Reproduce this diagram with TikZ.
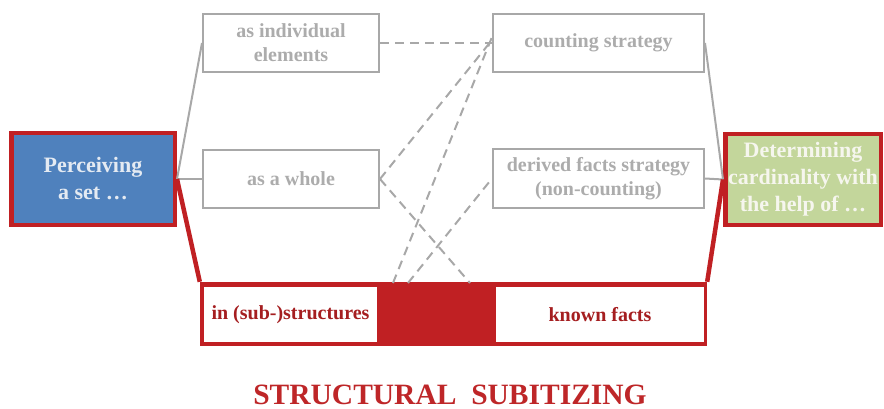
\documentclass[tikz,border=0pt]{standalone}
\usepackage{fontspec}
\setmainfont{Liberation Serif}
\definecolor{frameRed}{RGB}{192,32,35}
\definecolor{textRed}{RGB}{165,30,32}
\definecolor{titleRed}{RGB}{190,38,40}
\definecolor{setBlue}{RGB}{79,129,189}
\definecolor{setText}{RGB}{228,234,242}
\definecolor{cardGreen}{RGB}{195,214,155}
\definecolor{cardText}{RGB}{246,246,238}
\definecolor{lineGray}{RGB}{168,168,168}
\definecolor{textGray}{RGB}{172,172,172}

\begin{document}
\begin{tikzpicture}[x=1pt, y=-1pt,
  graybox/.style={draw=lineGray, line width=2pt, fill=white, inner sep=0pt,
    align=center, text=textGray, font=\fontsize{20}{24}\selectfont\bfseries},
  mainbox/.style={draw=frameRed, line width=4.5pt, inner sep=0pt, align=center,
    font=\fontsize{22}{27}\selectfont\bfseries},
  whitebox/.style={fill=white, inner sep=0pt, text=textRed,
    font=\fontsize{20}{24}\selectfont\bfseries},
  link/.style={draw=lineGray, line width=2pt},
  dashlink/.style={draw=lineGray, line width=2pt, dash pattern=on 9pt off 6pt},
  redlink/.style={draw=frameRed, line width=4.5pt}]

\useasboundingbox (0,0) rectangle (884,409);

% red band holding the two structural routes
\node[fill=frameRed, inner sep=0pt, minimum width=507pt, minimum height=64pt]
  (band) at (453.5,314) {};
\node[whitebox, minimum width=173pt, minimum height=55pt]
  (subs) at (290.5,314.5) {in (sub-)structures};
\node[whitebox, minimum width=208pt, minimum height=55pt]
  (known) at (600,314.5) {known facts};

% outer boxes
\node[mainbox, fill=setBlue, text=setText, minimum width=163.5pt, minimum height=91.5pt]
  (perceive) at (93,179) {Perceiving\\a set \dots};
\node[mainbox, fill=cardGreen, text=cardText, minimum width=155.5pt, minimum height=90.5pt]
  (card) at (803,179.5) {Determining\\cardinality with\\the help of \dots};

% ways of perceiving and strategies
\node[graybox, minimum width=176pt, minimum height=58pt] (indiv) at (291,43) {as individual\\elements};
\node[graybox, minimum width=176pt, minimum height=58pt] (whole) at (291,179) {as a whole};
\node[graybox, minimum width=211pt, minimum height=58pt] (count) at (598.5,43) {counting strategy};
\node[graybox, minimum width=211pt, minimum height=58pt] (derived) at (598.5,178.5) {derived facts strategy\\(non-counting)};

% end points of dashed links on the band
\coordinate (b1) at (393,283);
\coordinate (b2) at (408,283);
\coordinate (b3) at (470,283);

% solid links
\draw[link] (perceive.east) -- (indiv.west);
\draw[link] (perceive.east) -- (whole.west);
\draw[link] (count.east) -- (card.west);
\draw[link] (derived.east) -- (card.west);

% dashed links
\draw[dashlink] (indiv.east) -- (count.west);
\draw[dashlink] (whole.east) -- ([yshift=3pt]count.west);
\draw[dashlink] (b1) -- ([yshift=6pt]count.west);
\draw[dashlink] (whole.east) -- (b3);
\draw[dashlink] (b2) -- (derived.west);

% red links to the band
\draw[redlink] (perceive.east) -- (band.north west);
\draw[redlink] (card.west) -- (band.north east);

% title
\node[text=titleRed, font=\fontsize{29.5}{34}\selectfont\bfseries, anchor=base,
  inner sep=0pt] (title) at (450,404) {STRUCTURAL\ \ SUBITIZING};
\end{tikzpicture}
\end{document}
